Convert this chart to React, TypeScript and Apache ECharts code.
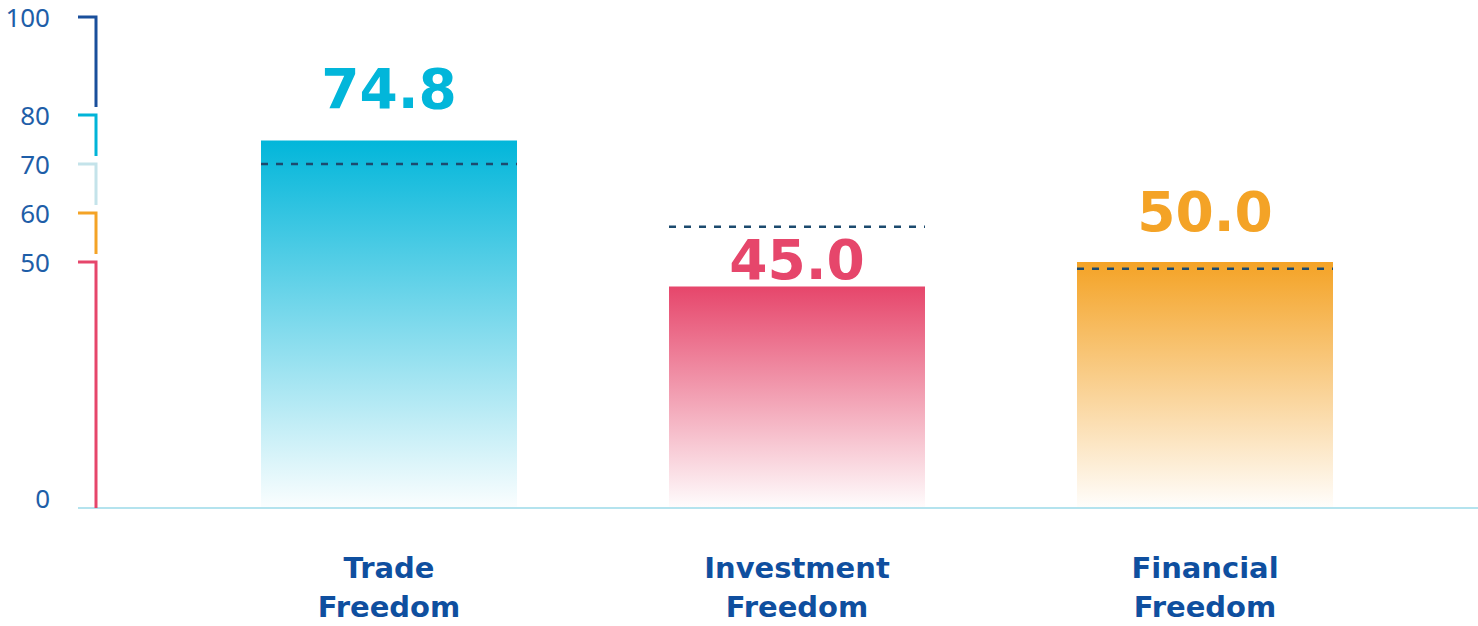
import React, { useEffect, useRef } from "react";
import * as echarts from "echarts";

const categories = ["Trade\nFreedom", "Investment\nFreedom", "Financial\nFreedom"];
const scores = [74.8, 45.0, 50.0];
const averages = [70.0, 57.2, 48.6];
const barColors = ["#02b6da", "#e6466b", "#f4a326"];
const labelDistances = [24, -1, 23];
const yTickLabels = [0, 50, 60, 70, 80, 100];
// axis segments: [top value, bottom value, colour]
const segTops = [100, 80, 70, 60, 50];
const segBottoms = [80, 70, 60, 50, 0];
const segColors = ["#1a4f9b", "#00b4d8", "#c4e3ea", "#f4a326", "#e6466b"];

const GRID_LEFT = 185;
const AXIS_X = 96;
const BAR_WIDTH = 256;

function hexToRgba(hex: string, a: number) {
  const n = parseInt(hex.slice(1), 16);
  return `rgba(${(n >> 16) & 255},${(n >> 8) & 255},${n & 255},${a})`;
}

export default function App() {
  const ref = useRef<HTMLDivElement>(null);
  useEffect(() => {
    document.body.style.margin = "0";
    const chart = echarts.init(ref.current!, null, { renderer: "svg" });
    const option: any = {
      animation: false,
      backgroundColor: "#ffffff",
      grid: { left: GRID_LEFT, right: 69, top: 17, bottom: 119 },
      xAxis: {
        type: "category",
        data: categories,
        axisLine: { show: false },
        axisTick: { show: false },
        axisLabel: {
          margin: 41,
          color: "#0f4f9f",
          fontFamily: "DejaVu Sans",
          fontWeight: "bold",
          fontSize: 29,
          lineHeight: 39,
        },
      },
      yAxis: {
        type: "value",
        min: 0,
        max: 100,
        interval: 10,
        offset: GRID_LEFT - AXIS_X,
        axisLine: { show: false },
        axisTick: { show: false },
        splitLine: { show: false },
        axisLabel: {
          margin: 46,
          color: "#1e5ea8",
          fontFamily: "Noto Sans",
          fontSize: 26,
          formatter: (v: number) =>
            yTickLabels.indexOf(v) < 0 ? "" : v === 0 ? "{z|0}" : String(v),
          rich: { z: { padding: [0, 0, 18, 0], color: "#1e5ea8", fontFamily: "Noto Sans", fontSize: 26 } },
        },
      },
      series: [
        {
          type: "bar",
          barWidth: BAR_WIDTH,
          z: 2,
          data: scores.map((v, i) => ({
            value: v,
            itemStyle: {
              color: new echarts.graphic.LinearGradient(0, 0, 0, 1, [
                { offset: 0, color: barColors[i] },
                { offset: 1, color: hexToRgba(barColors[i], 0.02) },
              ]),
            },
            label: {
              show: true,
              position: "top",
              distance: labelDistances[i],
              color: barColors[i],
              fontFamily: "DejaVu Sans",
              fontWeight: "bold",
              fontSize: 55,
              formatter: (p: any) => Number(p.value).toFixed(1),
            },
          })),
        },
        {
          type: "custom",
          z: 5,
          data: averages.map((v, i) => [i, v]),
          renderItem: (params: any, api: any) => {
            const p = api.coord([api.value(0), api.value(1)]);
            return {
              type: "line",
              shape: { x1: p[0] - BAR_WIDTH / 2, y1: p[1], x2: p[0] + BAR_WIDTH / 2, y2: p[1] },
              style: { stroke: "#1c4a6e", lineWidth: 2.5, lineDash: [7, 8] },
            };
          },
        },
      ],
    };
    chart.setOption(option);

    const yPix = (v: number) => chart.convertToPixel({ yAxisIndex: 0 }, v) as number;
    const y0 = yPix(0);
    const graphics: any[] = [
      {
        type: "line",
        shape: { x1: 78, y1: y0 + 1, x2: 1478, y2: y0 + 1 },
        style: { stroke: "#b4e3ee", lineWidth: 2 },
        z: 1,
      },
    ];
    segTops.forEach((t, i) => {
      const yt = yPix(t);
      const yb = segBottoms[i] === 0 ? y0 + 1 : yPix(segBottoms[i]) - 8;
      graphics.push({
        type: "polyline",
        shape: { points: [[78, yt], [AXIS_X, yt], [AXIS_X, yb]] },
        style: { stroke: segColors[i], lineWidth: 3, fill: null },
        z: 3,
      });
    });
    chart.setOption({ graphic: graphics });

    return () => chart.dispose();
  }, []);
  return <div ref={ref} style={{ width: 1478, height: 626 }} />;
}
